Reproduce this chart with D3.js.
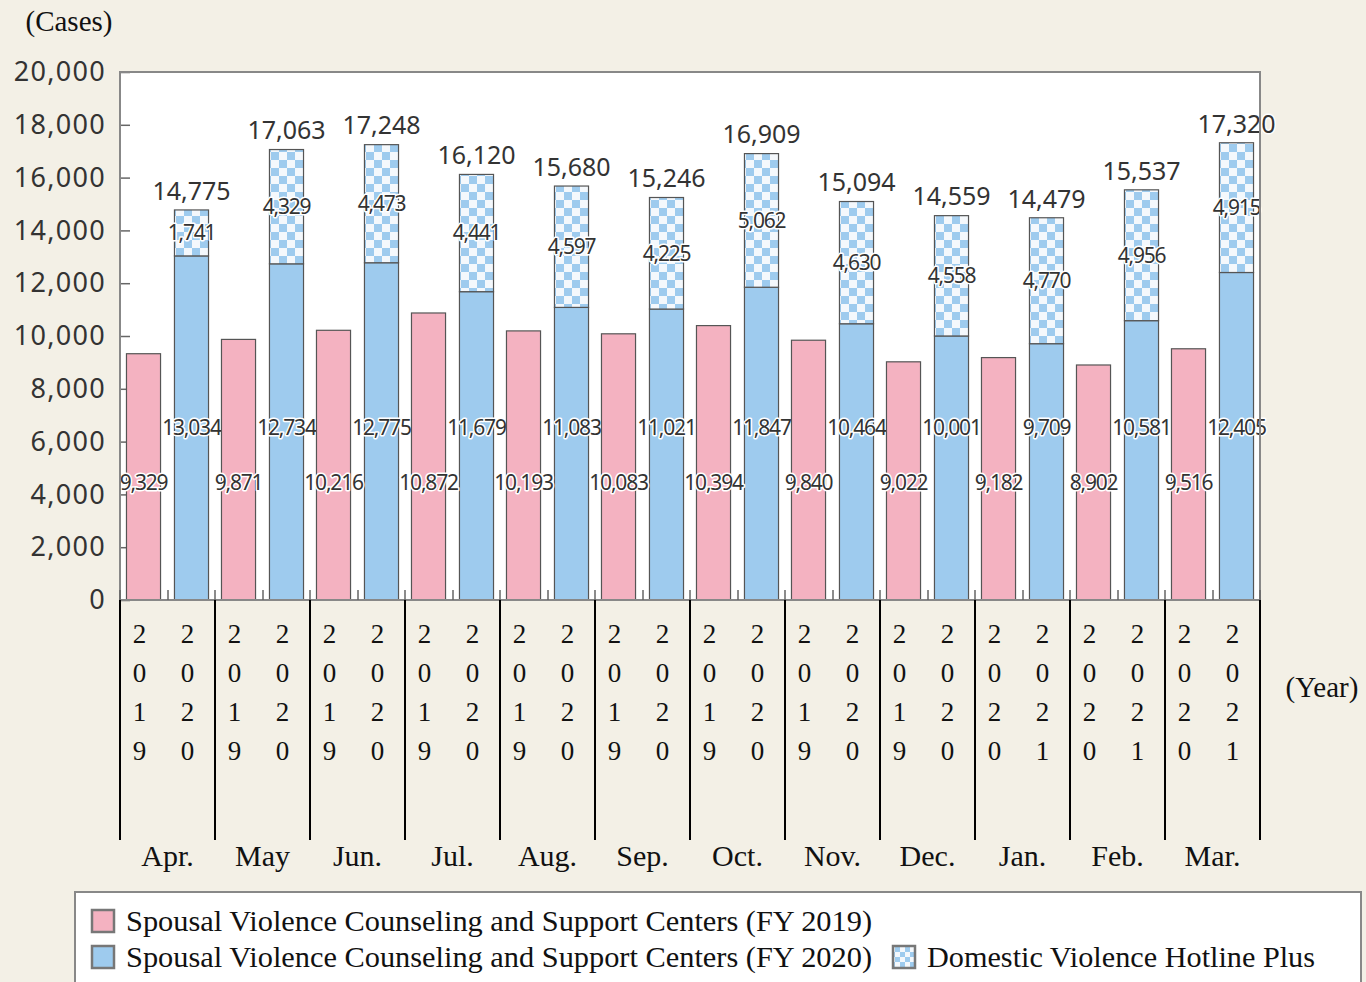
<!DOCTYPE html>
<html>
<head>
<meta charset="utf-8">
<script src="https://cdn.jsdelivr.net/npm/d3@7"></script>
<style>
  html, body { margin: 0; padding: 0; background: #f3f0e6; }
  svg { display: block; }
</style>
</head>
<body>
<svg id="chart" width="1366" height="982"></svg>
<script>
// data
const months = ["Apr.", "May", "Jun.", "Jul.", "Aug.", "Sep.", "Oct.", "Nov.", "Dec.", "Jan.", "Feb.", "Mar."];
const yearPrev = ["2019", "2019", "2019", "2019", "2019", "2019", "2019", "2019", "2019", "2020", "2020", "2020"];
const yearCurr = ["2020", "2020", "2020", "2020", "2020", "2020", "2020", "2020", "2020", "2021", "2021", "2021"];
const centers2019 = [9329, 9871, 10216, 10872, 10193, 10083, 10394, 9840, 9022, 9182, 8902, 9516];
const centers2020 = [13034, 12734, 12775, 11679, 11083, 11021, 11847, 10464, 10001, 9709, 10581, 12405];
const hotline = [1741, 4329, 4473, 4441, 4597, 4225, 5062, 4630, 4558, 4770, 4956, 4915];
const yTicks = [0, 2000, 4000, 6000, 8000, 10000, 12000, 14000, 16000, 18000, 20000];

const pink = "#f4b2c1", blue = "#9ecbee", barStroke = "#555";
const sans = "'Noto Sans', sans-serif", serif = "'Liberation Serif', 'Times New Roman', serif";

const svg = d3.select("#chart");
const plot = { left: 120, right: 1260, top: 72, bottom: 600 };

// checker pattern for hotline segment
const defs = svg.append("defs");
const pat = defs.append("pattern")
    .attr("id", "checker")
    .attr("patternUnits", "userSpaceOnUse")
    .attr("width", 16).attr("height", 16);
pat.append("rect").attr("width", 16).attr("height", 16).attr("fill", "#f4f8fc");
pat.append("rect").attr("width", 8).attr("height", 8).attr("fill", blue);
pat.append("rect").attr("x", 8).attr("y", 8).attr("width", 8).attr("height", 8).attr("fill", blue);

const x = d3.scaleBand().domain(months).range([plot.left, plot.right]).padding(0);
const xi = d3.scaleBand().domain(["prev", "curr"]).range([0, x.bandwidth()])
    .paddingInner(0.29).paddingOuter(0.135);
const y = d3.scaleLinear().domain([0, 20000]).range([plot.bottom, plot.top]);

// plot background
svg.append("rect")
    .attr("x", plot.left).attr("y", plot.top)
    .attr("width", plot.right - plot.left).attr("height", plot.bottom - plot.top)
    .attr("fill", "#fff");

// y axis, ticks pointing inwards
const yAxis = svg.append("g")
    .attr("transform", `translate(${plot.left},0)`)
    .call(d3.axisLeft(y).tickValues(yTicks).tickSizeInner(-10).tickSizeOuter(0)
      .tickPadding(14).tickFormat(d3.format(",")));
yAxis.select(".domain").remove();
yAxis.selectAll("line").attr("stroke", "#666").attr("stroke-width", 1.5);
yAxis.selectAll("text")
    .attr("font-family", sans).attr("font-size", 27).attr("fill", "#333")
    .attr("letter-spacing", 1.3);

const rows = months.map((m, i) => ({
  month: m, prev: centers2019[i], curr: centers2020[i], hot: hotline[i],
  total: centers2020[i] + hotline[i], yp: yearPrev[i], yc: yearCurr[i]
}));

const grp = svg.append("g").selectAll("g").data(rows).join("g")
    .attr("transform", d => `translate(${x(d.month)},0)`);

grp.append("rect")
    .attr("x", xi("prev")).attr("width", xi.bandwidth())
    .attr("y", d => y(d.prev)).attr("height", d => y(0) - y(d.prev))
    .attr("fill", pink).attr("stroke", barStroke).attr("stroke-width", 1.2);

grp.append("rect")
    .attr("x", xi("curr")).attr("width", xi.bandwidth())
    .attr("y", d => y(d.curr)).attr("height", d => y(0) - y(d.curr))
    .attr("fill", blue).attr("stroke", barStroke).attr("stroke-width", 1.2);

grp.append("rect")
    .attr("x", xi("curr")).attr("width", xi.bandwidth())
    .attr("y", d => y(d.total)).attr("height", d => y(d.curr) - y(d.total))
    .attr("fill", "url(#checker)").attr("stroke", barStroke).attr("stroke-width", 1.2);

// plot frame
svg.append("rect")
    .attr("x", plot.left).attr("y", plot.top)
    .attr("width", plot.right - plot.left).attr("height", plot.bottom - plot.top)
    .attr("fill", "none").attr("stroke", "#888").attr("stroke-width", 2);

// small ticks on the bottom edge: group edges and between the pair
const tickXs = [];
months.forEach(m => { tickXs.push(x(m)); tickXs.push(x(m) + x.bandwidth() / 2 + 0.5); });
tickXs.push(plot.right);
svg.append("g").selectAll("line").data(tickXs).join("line")
    .attr("x1", d => d).attr("x2", d => d)
    .attr("y1", plot.bottom).attr("y2", plot.bottom - 10)
    .attr("stroke", "#666").attr("stroke-width", 1.5);

// group separators under the axis
svg.append("g").selectAll("line").data(months.map(m => x(m)).concat([plot.right])).join("line")
    .attr("x1", d => d).attr("x2", d => d)
    .attr("y1", plot.bottom).attr("y2", 840)
    .attr("stroke", "#000").attr("stroke-width", 2);

// value labels with white halo
function halo(sel) {
  return sel.attr("paint-order", "stroke").attr("stroke", "#fff")
      .attr("stroke-width", 3).attr("stroke-linejoin", "round");
}
const fmt = d3.format(",");

halo(grp.append("text")
    .attr("x", xi("prev") + xi.bandwidth() / 2)
    .attr("y", y(4430)).attr("dy", "0.35em")
    .attr("text-anchor", "middle")
    .attr("font-family", sans).attr("font-size", 21).attr("letter-spacing", -1.2)
    .attr("fill", "#333")
    .text(d => fmt(d.prev)));

halo(grp.append("text")
    .attr("x", xi("curr") + xi.bandwidth() / 2)
    .attr("y", y(6510)).attr("dy", "0.35em")
    .attr("text-anchor", "middle")
    .attr("font-family", sans).attr("font-size", 21).attr("letter-spacing", -1.2)
    .attr("fill", "#333")
    .text(d => fmt(d.curr)));

halo(grp.append("text")
    .attr("x", xi("curr") + xi.bandwidth() / 2)
    .attr("y", d => y((d.curr + d.total) / 2)).attr("dy", "0.35em")
    .attr("text-anchor", "middle")
    .attr("font-family", sans).attr("font-size", 21).attr("letter-spacing", -1.2)
    .attr("fill", "#333")
    .text(d => fmt(d.hot)));

halo(grp.append("text")
    .attr("x", xi("curr") + xi.bandwidth() / 2)
    .attr("y", d => y(d.total) - 19).attr("dy", "0.35em")
    .attr("text-anchor", "middle")
    .attr("font-family", sans).attr("font-size", 25)
    .attr("fill", "#333")
    .text(d => fmt(d.total)));

// stacked year digits
const digitYs = [643, 682, 721, 760];
[["yp", "prev"], ["yc", "curr"]].forEach(([key, band]) => {
  grp.each(function(d) {
    d3.select(this).selectAll(null).data(d[key].split("")).join("text")
      .attr("x", xi(band) + xi.bandwidth() / 2 - 4)
      .attr("y", (c, k) => digitYs[k])
      .attr("text-anchor", "middle")
      .attr("font-family", serif).attr("font-size", 27).attr("fill", "#111")
      .text(c => c);
  });
});

// month labels
grp.append("text")
    .attr("x", x.bandwidth() / 2).attr("y", 866)
    .attr("text-anchor", "middle")
    .attr("font-family", serif).attr("font-size", 30).attr("fill", "#111")
    .text(d => d.month);

svg.append("text")
    .attr("x", 1322).attr("y", 697).attr("text-anchor", "middle")
    .attr("font-family", serif).attr("font-size", 29).attr("fill", "#111")
    .text("(Year)");

svg.append("text")
    .attr("x", 69).attr("y", 31).attr("text-anchor", "middle")
    .attr("font-family", serif).attr("font-size", 29).attr("fill", "#111")
    .text("(Cases)");

// legend
const lg = svg.append("g");
lg.append("rect")
    .attr("x", 75).attr("y", 892).attr("width", 1286).attr("height", 110)
    .attr("fill", "#fff").attr("stroke", "#888").attr("stroke-width", 2);

const legendItems = [
  { label: "Spousal Violence Counseling and Support Centers (FY 2019)", fill: pink, x: 92, y: 921, w: 746 },
  { label: "Spousal Violence Counseling and Support Centers (FY 2020)", fill: blue, x: 92, y: 957, w: 746 },
  { label: "Domestic Violence Hotline Plus", fill: "url(#legendChecker)", x: 893, y: 957, w: 388 }
];
const lpat = defs.append("pattern")
    .attr("id", "legendChecker")
    .attr("patternUnits", "userSpaceOnUse")
    .attr("x", 895).attr("y", 947)
    .attr("width", 10).attr("height", 10);
lpat.append("rect").attr("width", 10).attr("height", 10).attr("fill", "#f4f8fc");
lpat.append("rect").attr("width", 5).attr("height", 5).attr("fill", blue);
lpat.append("rect").attr("x", 5).attr("y", 5).attr("width", 5).attr("height", 5).attr("fill", blue);

legendItems.forEach(it => {
  lg.append("rect")
      .attr("x", it.x).attr("y", it.y - 11).attr("width", 22).attr("height", 22)
      .attr("fill", it.fill).attr("stroke", "#777").attr("stroke-width", 2.5);
  lg.append("text")
      .attr("x", it.x + 34).attr("y", it.y + 10)
      .attr("font-family", serif).attr("font-size", 29).attr("fill", "#111")
      .attr("textLength", it.w).attr("lengthAdjust", "spacingAndGlyphs")
      .text(it.label);
});
</script>
</body>
</html>
